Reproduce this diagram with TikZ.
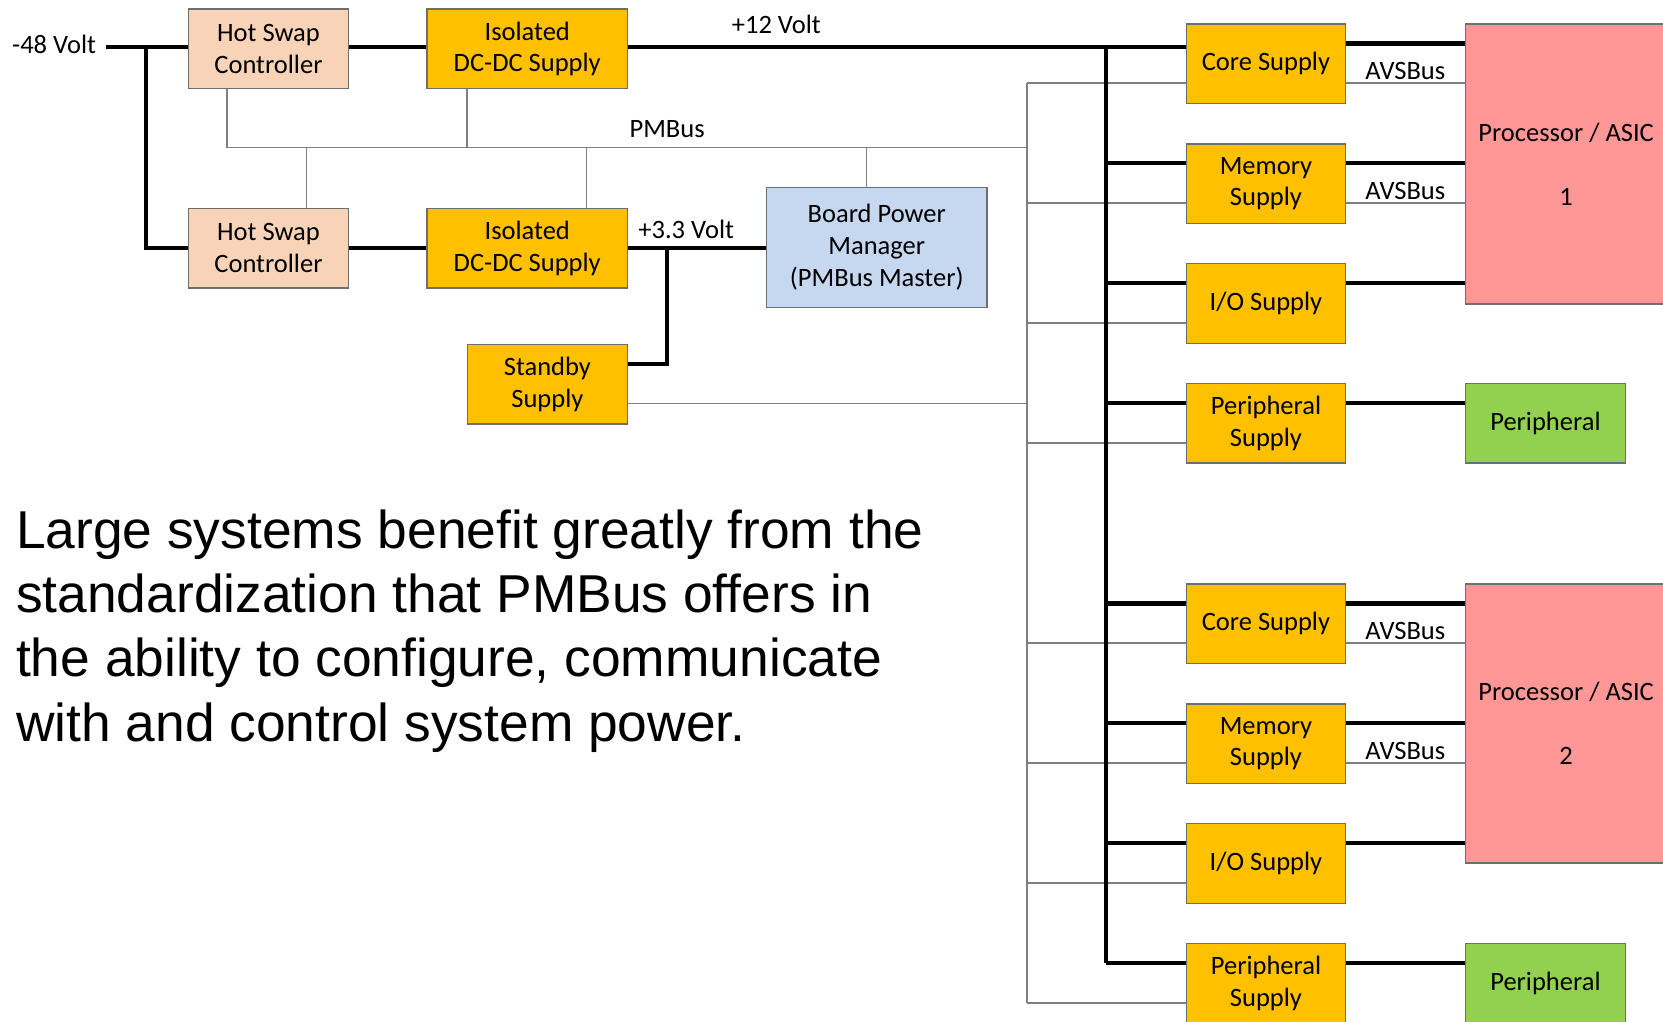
\documentclass[tikz,border=0pt]{standalone}
\usepackage{fontspec}
\setmainfont{Carlito}
\newfontfamily\bodyfont{Liberation Sans}
\usetikzlibrary{calc}

\definecolor{swapfill}{HTML}{F8D3B8}
\definecolor{supplyfill}{HTML}{FFC000}
\definecolor{managerfill}{HTML}{C6D7F0}
\definecolor{procfill}{HTML}{FF9797}
\definecolor{periphfill}{HTML}{92D050}
\definecolor{buswire}{HTML}{7F7F7F}
\definecolor{boxline}{HTML}{6E6E6E}

\tikzset{
  blk/.style={draw=boxline, line width=1.3pt, inner sep=0pt, align=center,
              font=\fontsize{25}{30}\selectfont, text=black},
  swapbox/.style={blk, fill=swapfill, minimum width=151pt, minimum height=75pt, anchor=north west},
  isobox/.style={blk, fill=supplyfill, minimum width=189pt, minimum height=75pt, anchor=north west},
  supply/.style={blk, fill=supplyfill, minimum width=150pt, minimum height=75pt, anchor=north west},
  managerbox/.style={blk, fill=managerfill, minimum width=208pt, minimum height=113pt, anchor=north west},
  procbox/.style={blk, fill=procfill, minimum width=190pt, minimum height=264pt, anchor=north west},
  periphbox/.style={blk, fill=periphfill, minimum width=151pt, minimum height=75pt, anchor=north west},
  power/.style={line width=4pt, black},
  ctlbus/.style={line width=1.6pt, buswire},
  lbl/.style={font=\fontsize{25}{30}\selectfont, inner sep=0pt},
}

\begin{document}
\begin{tikzpicture}[x=1pt, y=-1pt]
\useasboundingbox (0,0) rectangle (1568,963);
\begin{scope}
\clip (0,0) rectangle (1568,963);

% ---------- front end ----------
\node[lbl] (vin) at (51,42) {-48 Volt};
\node[swapbox] (hs1) at (177,8) {Hot Swap\\Controller};
\node[isobox] (iso1) at (402,8) {Isolated\\DC-DC Supply};
\node[swapbox] (hs2) at (177,196) {Hot Swap\\Controller};
\node[isobox] (iso2) at (402,196) {Isolated\\DC-DC Supply};
\node[blk, fill=supplyfill, minimum width=151pt, minimum height=75pt, anchor=north west] (stby) at (440,324) {Standby\\Supply};
\node[managerbox] (bpm) at (722,176) {Board Power\\Manager\\(PMBus Master)};

% ---------- rail supplies ----------
\node[supply] (c1) at (1118,22)  {Core Supply};
\node[supply] (m1) at (1118,135) {Memory\\Supply};
\node[supply] (i1) at (1118,248) {I/O Supply};
\node[supply] (p1) at (1118,361) {Peripheral\\Supply};
\node[supply] (c2) at (1118,550) {Core Supply};
\node[supply] (m2) at (1118,663) {Memory\\Supply};
\node[supply] (i2) at (1118,776) {I/O Supply};
\node[supply] (p2) at (1118,889) {Peripheral\\Supply};

% ---------- loads ----------
\node[procbox] (cpu1) at (1381,22)  {Processor / ASIC\\[30pt]1};
\node[procbox, minimum height=263pt] (cpu2) at (1381,550) {Processor / ASIC\\[30pt]2};
\node[periphbox] (per1) at (1381,361) {Peripheral};
\node[periphbox] (per2) at (1381,889) {Peripheral};

% connection points on every rail supply
\foreach \n in {c1,m1,i1,p1,c2,m2,i2,p2}{
  \coordinate (\n-pin)  at ($(\n.north west)+(0,19)$);
  \coordinate (\n-pout) at ($(\n.north east)+(0,19)$);
  \coordinate (\n-cin)  at ($(\n.north west)+(0,56.5)$);
  \coordinate (\n-cout) at ($(\n.north east)+(0,56.5)$);
}

% ---------- control bus (thin) ----------
\coordinate (trunk) at (968,139);
\coordinate (tapA) at (214,139);
\coordinate (tapB) at (289,139);
\coordinate (tapC) at (440,139);
\coordinate (tapD) at (553,139);
\coordinate (tapE) at (817,139);
\draw[ctlbus] (tapA |- hs1.south) -- (tapA) -- (trunk);
\draw[ctlbus] (tapB |- hs2.north) -- (tapB);
\draw[ctlbus] (tapC |- iso1.south) -- (tapC);
\draw[ctlbus] (tapD |- iso2.north) -- (tapD);
\draw[ctlbus] (tapE |- bpm.north) -- (tapE);
\draw[ctlbus] (trunk |- c1-cin) -- (trunk |- p2-cin);
\draw[ctlbus] ($(stby.north east)+(0,56.5)$) coordinate (stby-c) -- (trunk |- stby-c);
\foreach \n in {c1,m1,i1,p1,c2,m2,i2,p2}{
  \draw[ctlbus] (trunk |- \n-cin) -- (\n-cin);
}
\draw[ctlbus] (c1-cout) -- (cpu1.west |- c1-cout);
\draw[ctlbus] (m1-cout) -- (cpu1.west |- m1-cout);
\draw[ctlbus] (c2-cout) -- (cpu2.west |- c2-cout);
\draw[ctlbus] (m2-cout) -- (cpu2.west |- m2-cout);

% ---------- power paths (thick) ----------
\coordinate (split) at (138,0);
\draw[power] (100,44) coordinate (vinend) -- (hs1.west |- vinend);
\draw[power] (split |- vinend) -- (split |- hs2.west) -- (hs2.west);
\draw[power] (hs1.east |- vinend) -- (iso1.west |- vinend);
\draw[power] (hs2.east) -- (iso2.west);
\draw[power] (iso1.east |- vinend) -- (c1.west |- vinend);
\draw[power] (iso2.east) -- (bpm.west |- iso2.east);
\coordinate (sbjoin) at (629,0);
\draw[power] ($(stby.north east)+(0,19)$) coordinate (stby-p) -- (sbjoin |- stby-p) -- (sbjoin |- iso2.east);

\coordinate (rail) at (1043,0);
\draw[power] (rail |- vinend) -- (rail |- p2-pin);
\foreach \n in {m1,i1,p1,c2,m2,i2,p2}{
  \draw[power] (rail |- \n-pin) -- (\n-pin);
}
\draw[power] (c1-pout) -- (cpu1.west |- c1-pout);
\draw[power] (m1-pout) -- (cpu1.west |- m1-pout);
\draw[power] (i1-pout) -- (cpu1.west |- i1-pout);
\draw[power] (p1-pout) -- (per1.west |- p1-pout);
\draw[power] (c2-pout) -- (cpu2.west |- c2-pout);
\draw[power] (m2-pout) -- (cpu2.west |- m2-pout);
\draw[power] (i2-pout) -- (cpu2.west |- i2-pout);
\draw[power] (p2-pout) -- (per2.west |- p2-pout);

% ---------- wire labels ----------
\node[lbl] (l12) at (732,23) {+12 Volt};
\node[lbl] (l33) at (647,216) {+3.3 Volt};
\node[lbl] (lpm) at (629,122) {PMBus};
\node[lbl] (av1) at (1325,67)  {AVSBus};
\node[lbl] (av2) at (1325,180) {AVSBus};
\node[lbl] (av3) at (1325,595) {AVSBus};
\node[lbl] (av4) at (1325,708) {AVSBus};

% ---------- caption ----------
\node[anchor=west, align=left, inner sep=0pt,
      font=\bodyfont\fontsize{50.3}{60.5}\selectfont] (note) at (15,595)
  {Large systems benefit greatly from the\\
   standardization that PMBus offers in\\
   the ability to configure, communicate\\
   with and control system power.};
\end{scope}
\end{tikzpicture}
\end{document}
